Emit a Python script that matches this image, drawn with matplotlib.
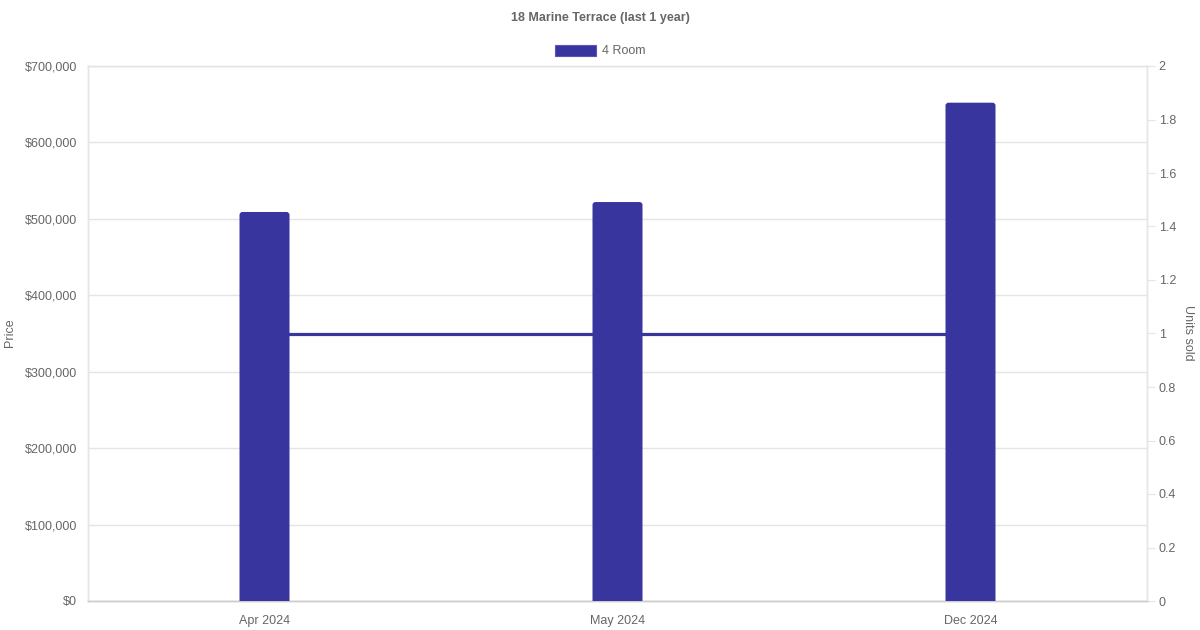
import matplotlib
matplotlib.use("Agg")
import matplotlib.pyplot as plt
from matplotlib.patches import FancyBboxPatch, Patch
from matplotlib.ticker import FuncFormatter, MultipleLocator

plt.rcParams['font.family'] = ['Liberation Sans', 'DejaVu Sans']

categories = ["Apr 2024", "May 2024", "Dec 2024"]
prices = [509000, 522000, 652000]
units = [1, 1, 1]
series_name = "4 Room"
title = "18 Marine Terrace (last 1 year)"

color = '#38359e'
text_c = '#666666'
grid_c = '#e5e5e5'

fig = plt.figure(figsize=(12, 6.3), dpi=100)
ax = fig.add_axes([88/1200, 1-601/630, (1147-88)/1200, (601-66)/630])
ax2 = ax.twinx()

ax.set_xlim(-0.5, len(categories)-0.5)
ax.set_ylim(0, 700000)
ax2.set_ylim(0, 2)

# line on secondary axis (under bars)
ax2.plot(range(len(categories)), units, color=color, lw=2.3, solid_capstyle='butt', zorder=1)

# bars with rounded top corners
bw = 50/353
rx = 3/353
ry = 3*700000/535
for i, v in enumerate(prices):
    p = FancyBboxPatch((i-bw/2, -20000), bw, v+20000,
                       boxstyle=f"round,pad=0,rounding_size={rx}",
                       mutation_aspect=ry/rx, facecolor=color, edgecolor='none', zorder=3)
    ax.add_patch(p)

ax.set_zorder(ax2.get_zorder()+1)
ax.patch.set_visible(False)

ax.set_xticks(range(len(categories)))
ax.set_xticklabels(categories)
ax.yaxis.set_major_locator(MultipleLocator(100000))
ax.yaxis.set_major_formatter(FuncFormatter(lambda v, p: f"${int(v):,}"))
ax2.yaxis.set_major_locator(MultipleLocator(0.2))
ax2.yaxis.set_major_formatter(FuncFormatter(lambda v, p: f"{v:g}"))

ax.grid(axis='y', color=grid_c, lw=1)
ax.set_axisbelow(True)

for a in (ax, ax2):
    for s in a.spines.values():
        s.set_color(grid_c)
        s.set_linewidth(1)
    a.spines['bottom'].set_color('#cccccc')

ax.tick_params(axis='y', length=0, pad=8, labelsize=9, labelcolor=text_c)
ax.tick_params(axis='x', length=0, pad=10, labelsize=9, labelcolor=text_c)
ax2.tick_params(axis='y', length=6, pad=2.5, color=grid_c, labelsize=9, labelcolor=text_c)

fig.text(10/1200, 1-333/630, "Price", rotation=90, ha='center', va='center', fontsize=9, color=text_c)
fig.text(1188/1200, 1-333/630, "Units sold", rotation=270, ha='center', va='center', fontsize=9, color=text_c)

fig.text(0.5, 1-17.5/630, title, ha='center', va='center', fontsize=9, fontweight='bold', color=text_c)

leg = fig.legend(handles=[Patch(facecolor=color, edgecolor='#5a56b8', lw=0.8, label=series_name)],
                 loc='center', bbox_to_anchor=(0.5, 1-51/630), frameon=False,
                 handlelength=3.3, handleheight=1.0, handletextpad=0.5, fontsize=9)
for t in leg.get_texts():
    t.set_color(text_c)

fig.savefig("out.png", dpi=100)
